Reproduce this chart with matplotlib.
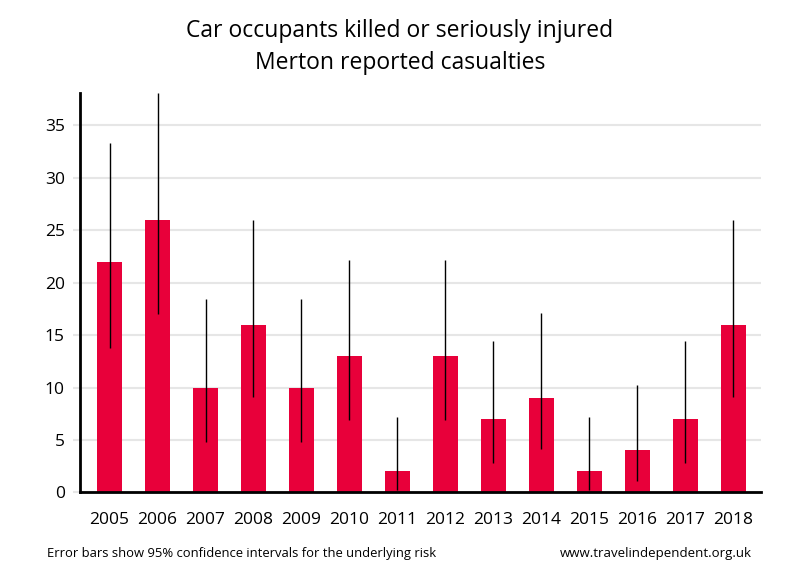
import numpy as np
import matplotlib.pyplot as plt

plt.rcParams['font.family'] = ['Open Sans', 'DejaVu Sans']

# data
years = ['2005', '2006', '2007', '2008', '2009', '2010', '2011',
         '2012', '2013', '2014', '2015', '2016', '2017', '2018']
casualties = [22, 26, 10, 16, 10, 13, 2, 13, 7, 9, 2, 4, 7, 16]
ci_low = [13.8, 17.0, 4.8, 9.1, 4.8, 6.9, 0.24, 6.9, 2.8, 4.1, 0.24, 1.1, 2.8, 9.1]
ci_high = [33.3, 38.1, 18.4, 26.0, 18.4, 22.2, 7.2, 22.2, 14.4, 17.1, 7.2, 10.2, 14.4, 26.0]

bar_colour = '#e8003a'

fig = plt.figure(figsize=(8, 5.8), dpi=100)
ax = fig.add_axes([0.10, 0.151, 0.851, 0.689])

x = np.arange(len(years))
vals = np.array(casualties)
yerr = [vals - np.array(ci_low), np.array(ci_high) - vals]

ax.bar(x, vals, width=0.52, color=bar_colour, zorder=2)
ax.errorbar(x, vals, yerr=yerr, fmt='none', ecolor='black',
            elinewidth=1, capsize=0, zorder=3)

ax.set_xlim(-0.615, 13.57)
ax.set_ylim(0, 38.1)
ax.set_yticks([0, 5, 10, 15, 20, 25, 30, 35])
ax.set_xticks(x)
ax.set_xticklabels(years)

ax.yaxis.grid(True, color='#e6e6e6', linewidth=1.5, zorder=0)
ax.set_axisbelow(True)

for s in ['top', 'right']:
    ax.spines[s].set_visible(False)
ax.spines['left'].set_linewidth(2)
ax.spines['bottom'].set_linewidth(2)

ax.tick_params(axis='y', length=5, width=1.5, color='#e6e6e6',
               labelsize=12.5, pad=6)
ax.tick_params(axis='x', length=0, labelsize=12.5, pad=14)

fig.text(0.5, 0.947, 'Car occupants killed or seriously injured',
         ha='center', va='center', fontsize=16.5)
fig.text(0.5, 0.892, 'Merton reported casualties',
         ha='center', va='center', fontsize=16.5)

fig.text(0.059, 0.046, 'Error bars show 95% confidence intervals for the underlying risk',
         ha='left', va='center', fontsize=9.4)
fig.text(0.94, 0.046, 'www.travelindependent.org.uk',
         ha='right', va='center', fontsize=9.5)

plt.savefig('out.png', dpi=100)
